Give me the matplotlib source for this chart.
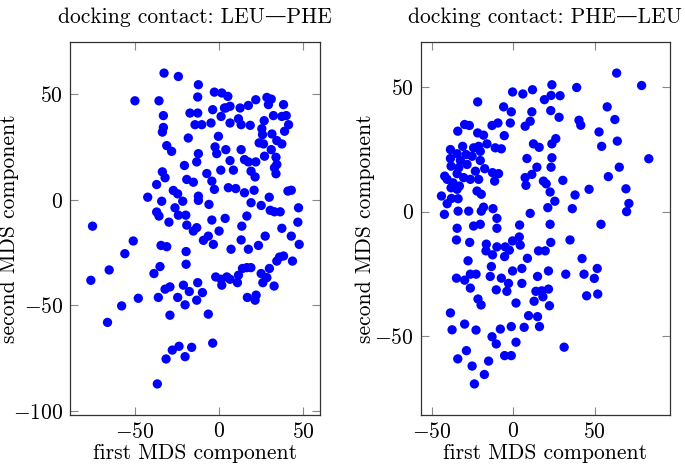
import numpy as np
import matplotlib
matplotlib.use('Agg')
import matplotlib.pyplot as plt
from matplotlib.ticker import MultipleLocator

plt.rcParams['font.family'] = ['cmr10', 'DejaVu Serif']
plt.rcParams['mathtext.fontset'] = 'cm'
plt.rcParams['axes.formatter.use_mathtext'] = True

# docking contact LEU-PHE (first / second MDS component)
leu_phe_x = [-32.7, -24.2, -50, -35.7, -33.1, -33.1, -33.7, -31.1, -28.2, -33.7, -32.1, -37.1,
             -27.2, -24.6, -42.4, -34.1, -26.2, -37.1, -35.7, -24.2, -29.8, -75.2,
             -20.6, -17.3, -18.3, -19.2, -21.6, -19.8, -19.2,
             -12.3, -12.7, -2.8, 1.6, 5.2, 6.5, 3.2, 12.5, 17.4, 21.8, 28.4, 31, 29.3, 38.3,
             32.3, 37.3, 39.9, 41.3, 38.9, 26.8, 25.4, 25.8, 31.4, 34.3, 37.3, 23.8, 26.4,
             31, 27, 33.8, 34.3, 32.9, 33.8,
             -12.7, -3.8, 1.2, 4, -14.3, -10.3, -4.8, 6.5, 11.5, 13.1, 18.5, -0.4, -2.4,
             -1.4, 4, 13.1, -12.3, -13.3, 6.5, 15.1, 17.4, 21.8, 1, 8.5, 19, 21.4, -7.3,
             -15.3, -4.3, -2.8, 5.5, 9.9, 15.1, 20.8, 40.9, 42.9, -12.3, -12.3, -6, 19, 25,
             29.8, 30.4, 32.9, 36.3, 47.2, -4.3, 3.6, 16.5, 46.8, -13.3, -15.3, 0, -6.4,
             13.5, 27.4, 37.3, 42.9,
             -51, -56, -65.3, -76.2, -34.5, -31.1, -19.6, -19.6, -35.1, -38.7, -32.1, -29.2,
             -21.2, -24.6, -17.7, -36.1, -48, -57.9, -66.3, -20.2, -29.2, -23.8, -27.8,
             -31.5, -20.2, -16.3, -36.7,
             -9.3, -3.4, 13.1, 7.1, 17.4, 23.4, 47.6, -12.7, -9.9, -13.3, -6.4, -2, 1.6,
             1.2, 4.6, 6.5, 10.9, 11.5, 13.9, 16.5, 18.9, 25, 28.4, 26, 29.9, 32.7, 34.3,
             35.9, 38.3, 43.6, 16.8, 22, 21.4, -3.8]
leu_phe_y = [59.9, 58.3, 46.8, 46.8, 39.8, 34.2, 32, 25.6, 22.9, 13.2, 10.4, 7.2,
             4.4, 2.8, 1.2, -0.7, -3.8, -5.8, -7.7, -7.3, -10.6, -12.5,
             16.2, 41, 29.2, 9.6, -0.7, -7.3, -12,
             54.4, 48.6, 50.9, 50.5, 48.9, 44.2, 43.4, 43.4, 44.6, 47.3, 48.4, 47.6, 45, 45,
             39.8, 39.4, 39.8, 35.5, 32.4, 37.4, 33.6, 30.8, 31.1, 28, 26.4, 26.9, 26.4,
             23.7, 20.6, 20.1, 16.7, 15.1, 12.3,
             41, 42.6, 39.4, 43.4, 35.5, 35.5, 36.3, 36.3, 38.3, 35.5, 35.2, 30, 25,
             21.8, 23.7, 23.7, 21.8, 17.9, 18.5, 19, 17.9, 17.9, 14, 14, 13.5, 10.8, 12.4,
             8.3, 8.8, 4.9, 5.7, 5.3, 3.3, 4.5, 4.1, 4.5, 1.7, -0.3, -2.2, -1.4, -2.7,
             1.2, -5, -5.7, -5.7, -3.8, -9.6, -8.8, -7.7, -10.6, -13.2, -14.8, -14.8, -17.2,
             -12.5, -17.2, -13.5, -17.2,
             -19.5, -25.5, -33.2, -38.1, -21.6, -22.2, -24.5, -30.5, -31.6, -34.9, -42.3, -41.2,
             -40.4, -46.2, -43.4, -46.2, -46.6, -50.2, -58, -49.7, -54.6, -69.3, -71.1,
             -75.3, -74.2, -69.8, -87.1,
             -19.2, -21.1, -19, -23.4, -23.4, -21.6, -21.1, -39.2, -43.9, -47.5, -54.1, -36.5, -40.4,
             -37.6, -36.5, -37.6, -39.2, -35.7, -32.5, -32.1, -32.1, -34.9, -36.8, -39.2, -32.5, -40.8, -29,
             -27.1, -26.6, -29, -46.2, -45.1, -47.5, -67.8]

# docking contact PHE-LEU
phe_leu_x = [-0.4, 5.9, 11.8, 23.7, 19.1, 23.2, -21.8, -5.9, -1.2, 11.4, 23, -29.8, -26.9, -34,
             -13, -9.4, -1.8, 7.3, 10.4, -21.8, -18.2, -5.5, -16.1, -31, -24.3, -21.2, -38.5,
             -11, -7.3, 12.4, 15.9, -34.4, -28.9, -25.2, -20.2, -38.5, -32.4, -20.2, 8.4,
             23.7, -38.1, -33.4, -28.3, 14.5, 23.2, -17.5, -42, -40.5, -34.4, -30.4, -23.2,
             -12.7, -9, -11.4, -26.3, -21.2, -36.9, -33, -38.1, -34.4, 7.3, 11.4, 7.8, 18.5,
             20.2, 22.6, -22.2, -19.6, -44, -37.9, -33.8, -40.5, -42.2, -33.8, -27.3,
             -19.6, -18.2, -12.4, -10, 10.4, 21.2, 3.9, 22.6, -20.2, -24.3, -34.4, -10,
             63.4, 78.7, 38.9, 28.7, 57.6, 28.1, 40.3, 41.4, 62.3, 52.6, 26.1, 23.7, 54.2,
             63.8, 83.1, 65, 58.3, 30.4, 46.5, 69.1, 37.9, 25.5, 36.2, 70.9, 69.5, 53.8,
             -34.8, -26.7, -16.5, -16.7, -12.7, -10, -4.9, -2.4, -5.3, -0.4, 3.7, 4.3, 8.7,
             15.5, 19.6, 23, -27.7, -13.4, -14.1, -34.8, -29.8, -26.3, -22.8, -26.3, -7.3,
             -2.9, -0.4, 5.3, 5.3, 14.9, 21.6, -10.4, -3.9, 13.9, 17.5, 21.6, 18.2, 12.8,
             22.2, -21.6, -19.7, 1.7, -38.5, 9.4, 14.9, -37.5, -29.8, -22.8, -7.9, -1.2, 6.7,
             16.1, -13, -10.4, 1.7, -28.7, -34, -5.3, -1.2, -15.1, -25.2, -17.7, -23.8,
             34.8, 42.2, 51.5, 32.2, 43.4, 49.7, 45, 51.8, 31.2]
phe_leu_y = [48.2, 47.4, 49.1, 51.1, 45.1, 46.8, 44.2, 42.2, 40.2, 40.2, 40.7, 35.1, 34.7, 32.4,
             34.7, 35.7, 35.7, 34.4, 36.4, 31.7, 30.8, 30.6, 27.3, 26.3, 25.7, 26.3, 25,
             25.7, 25.3, 27.3, 25.9, 23.3, 23, 22.3, 24.3, 21.4, 20.6, 20.6, 21.4,
             21.7, 18.3, 17.7, 19, 17.9, 17.9, 17.3, 14.3, 13, 15.3, 13.7, 16.3,
             15.7, 15.3, 12.3, 13, 13, 11.6, 10.3, 9.6, 9, 13.7, 15, 10.6, 12.3,
             11.2, 7.9, 8.3, 7, 6.3, 5.3, 5.2, 3.2, -1.1, 0.2, 0.2,
             0.2, 1.8, 1.2, -2.7, -0.7, 1.6, -5.4, -5.1, -5.1, -5.8, -6.7, -6.7,
             55.8, 50.8, 50, 46.7, 42.2, 38, 36.8, 34.8, 37.1, 32.1, 29.4, 27.3, 26.3,
             28.4, 21.3, 17.9, 14.1, 12.6, 9, 9.2, 6.7, 4.2, 1.2, 3.3, 0, -5.1,
             -11.4, -12.4, -13.1, -15.8, -17.4, -14.2, -14.2, -15.5, -18.1, -11.8, -10.2, -13.5, -18.8,
             -15.8, -15.8, -12.4, -19.8, -22.1, -26.1, -26.8, -27.6, -25.2, -25.2, -30.8, -26.8,
             -28.9, -23.9, -22.9, -28.9, -26.1, -23.9, -31.5, -32.1, -32.1, -31.9, -31.2, -34.3, -36.1,
             -37.9, -35.2, -37.6, -36.8, -40.8, -41.9, -42.3, -47.6, -45.3, -47.7, -47.3, -46.3, -46.6,
             -46.3, -50.4, -53.3, -52.6, -56, -59.3, -58, -58, -60.2, -62.2, -65.6, -69.4,
             -11.4, -18.9, -22.9, -25.2, -25.2, -26.9, -33.9, -33.2, -54.6]

titles = ['docking contact: LEU\u2014PHE', 'docking contact: PHE\u2014LEU']
panels = [(leu_phe_x, leu_phe_y), (phe_leu_x, phe_leu_y)]

fig = plt.figure(figsize=(6.85, 4.7), dpi=100)
ax1 = fig.add_axes([0.1022, 0.117, 0.365, 0.7936])
ax2 = fig.add_axes([0.6142, 0.117, 0.3632, 0.7936])

fs = 15.5
for ax, (xs, ys), title, ylab_x in zip([ax1, ax2], panels, titles, [-0.203, -0.184]):
    ax.scatter(np.array(xs), np.array(ys), s=45, color='#0000ff', edgecolors='none', zorder=3)
    ax.margins(0.1)
    ax.xaxis.set_major_locator(MultipleLocator(50))
    ax.yaxis.set_major_locator(MultipleLocator(50))
    ax.tick_params(direction='in', length=6, width=0.8, color='#888888',
                   top=True, right=True, labelsize=fs, pad=5)
    for sp in ax.spines.values():
        sp.set_linewidth(0.9)
        sp.set_color('#333333')
    ax.set_title(title, fontsize=fs, pad=14)
    ax.set_xlabel('first MDS component', fontsize=fs, labelpad=1)
    ax.set_ylabel('second MDS component', fontsize=fs)
    ax.yaxis.set_label_coords(ylab_x, 0.5)

fig.savefig('out.png', dpi=100)
